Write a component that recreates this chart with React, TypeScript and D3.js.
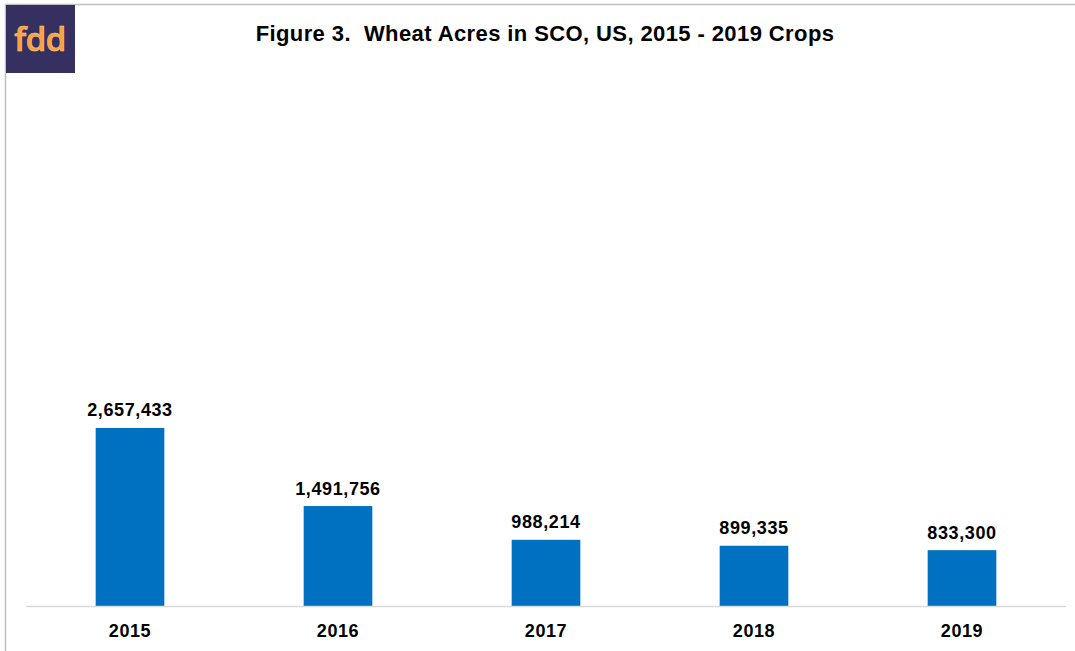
import React from "react";
import * as d3 from "d3";

const years = ["2015", "2016", "2017", "2018", "2019"];
const acres = [2657433, 1491756, 988214, 899335, 833300];
const title = "Figure 3.  Wheat Acres in SCO, US, 2015 - 2019 Crops";

const W = 1075;
const H = 651;
const plotLeft = 26;
const plotRight = 1066;
const plotTop = 70;
const plotBottom = 606;

export default function App() {
  const x = d3
    .scaleBand<string>()
    .domain(years)
    .range([plotLeft, plotRight])
    .paddingInner(0.67)
    .paddingOuter(0.335);
  const y = d3.scaleLinear().domain([0, 8000000]).range([plotBottom, plotTop]);
  const fmt = d3.format(",");
  const font = "'Liberation Sans', Arial, Helvetica, sans-serif";

  return (
    <svg
      width={W}
      height={H}
      style={{ position: "absolute", left: 0, top: 0, background: "#fff" }}
      fontFamily={font}
    >
      <rect x={0} y={0} width={W} height={H} fill="#fff" />
      {/* border */}
      <line x1={5.5} y1={4.5} x2={W} y2={4.5} stroke="#bfbfbf" strokeWidth={1.5} />
      <line x1={5.5} y1={4.5} x2={5.5} y2={H} stroke="#bfbfbf" strokeWidth={1.5} />
      {/* logo */}
      <rect x={6} y={5} width={69} height={68} fill="#35305f" />
      <text
        x={40}
        y={51}
        textAnchor="middle"
        fontFamily="'Open Sans', 'DejaVu Sans', sans-serif"
        fontWeight={600}
        fontSize={33}
        fill="#f9a23c"
        stroke="#f7c98e"
        strokeWidth={0.6}
        letterSpacing={-0.5}
      >
        fdd
      </text>
      {/* title */}
      <text
        x={545}
        y={41}
        textAnchor="middle"
        fontWeight="bold"
        fontSize={22}
        letterSpacing={0.4}
        fill="#000"
        style={{ whiteSpace: "pre" }}
      >
        {title}
      </text>
      {/* bars */}
      {years.map((yr, i) => (
        <g key={yr}>
          <rect
            x={x(yr)}
            y={y(acres[i])}
            width={x.bandwidth()}
            height={plotBottom - y(acres[i])}
            fill="#0070c0"
          />
          <text
            x={(x(yr) as number) + x.bandwidth() / 2}
            y={y(acres[i]) - 11.5}
            textAnchor="middle"
            fontWeight="bold"
            fontSize={18}
            letterSpacing={0.6}
            fill="#000"
          >
            {fmt(acres[i])}
          </text>
          <text
            x={(x(yr) as number) + x.bandwidth() / 2}
            y={637}
            textAnchor="middle"
            fontWeight="bold"
            fontSize={18}
            letterSpacing={0.6}
            fill="#000"
          >
            {yr}
          </text>
        </g>
      ))}
      {/* axis */}
      <line x1={plotLeft} y1={plotBottom + 0.5} x2={plotRight} y2={plotBottom + 0.5} stroke="#d9d9d9" strokeWidth={1.5} />
    </svg>
  );
}
